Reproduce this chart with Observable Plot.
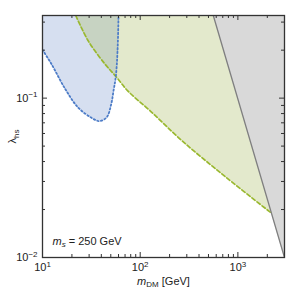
<!DOCTYPE html>
<html><head><meta charset="utf-8">
<script src="https://cdn.jsdelivr.net/npm/d3@7"></script>
<script src="https://cdn.jsdelivr.net/npm/@observablehq/plot@0.6"></script>
<style>body{margin:0;background:#fff}</style>
</head><body><div id="chart"></div>
<script>
// Blue (dotted) excluded region: lower boundary
const blueMass   = [10, 12.4, 17.1, 23.3, 32.0, 38.3, 45.5, 50.5, 53.3, 56.3, 58.6, 60];
const blueLambda = [0.201, 0.163, 0.114, 0.0869, 0.075, 0.0718, 0.076, 0.0917, 0.111, 0.137, 0.197, 0.33];
// Green (dashed) region: lower boundary
const greenMass   = [21.9, 29.6, 43.8, 56.3, 74.6, 127, 269, 750, 2200];
const greenLambda = [0.33, 0.227, 0.163, 0.137, 0.111, 0.083, 0.0539, 0.032, 0.019];
// Gray (solid) region: left boundary
const grayMass   = [560, 3000];
const grayLambda = [0.33, 0.01];

const xDomain = [10, 3000];
const yDomain = [0.01, 0.33];
const xMajor = [10, 100, 1000];
const xLabels = ["10^{1}", "10^{2}", "10^{3}"];
const yMajor = [0.01, 0.1];
const yLabels = ["10^{−2}", "10^{−1}"];
const xMinor = [20,30,40,50,60,70,80,90,200,300,400,500,600,700,800,900,2000,3000];
const yMinor = [0.02,0.03,0.04,0.05,0.06,0.07,0.08,0.09,0.2,0.3];
const xTitle = "*m*_{DM} [GeV]";
const yTitle = "λ_{hs}";
const note = "*m*_{*s*} = 250 GeV";

const blue = blueMass.map((m, i) => ({m, l: blueLambda[i]}));
const green = greenMass.map((m, i) => ({m, l: greenLambda[i]}));
const gray = grayMass.map((m, i) => ({m, l: grayLambda[i]}));
const yTop = yDomain[1], xRight = xDomain[1];

const W = 287, H = 291, mL = 42, mR = 3, mT = 15, mB = 34;
const pw = W - mL - mR, ph = H - mT - mB;
const ink = "#333";

function ticks(vals, len) {
  return [
    Plot.tickX(vals, {x: d => d, insetTop: ph - len, stroke: ink}),
    Plot.tickX(vals, {x: d => d, insetBottom: ph - len, stroke: ink}),
  ];
}
function ticksY(vals, len) {
  return [
    Plot.tickY(vals, {y: d => d, insetRight: pw - len, stroke: ink}),
    Plot.tickY(vals, {y: d => d, insetLeft: pw - len, stroke: ink}),
  ];
}

const chart = Plot.plot({
  width: W, height: H,
  marginLeft: mL, marginRight: mR, marginTop: mT, marginBottom: mB,
  style: {fontFamily: "'Liberation Sans', Arial, sans-serif", fontSize: "11px", color: "#222", background: "white"},
  x: {type: "log", domain: xDomain},
  y: {type: "log", domain: yDomain},
  marks: [
    Plot.areaY(blue, {x: "m", y1: "l", y2: () => yTop, fill: "#d6dff0", curve: "catmull-rom", clip: true}),
    Plot.areaY(green, {x: "m", y1: "l", y2: () => yTop, fill: "rgb(170,188,100)", fillOpacity: 0.33, curve: "catmull-rom", clip: true}),
    Plot.areaX(gray, {y: "l", x1: "m", x2: () => xRight, fill: "#d9d9d9", clip: true}),
    Plot.line(green, {x: "m", y: "l", stroke: "#9ab830", strokeWidth: 1.7, strokeDasharray: "4,2.4", curve: "catmull-rom", clip: true}),
    Plot.line(blue, {x: "m", y: "l", stroke: "#4d7cc7", strokeWidth: 1.8, strokeDasharray: "1.5,2.3", curve: "catmull-rom", clip: true}),
    Plot.line(gray, {x: "m", y: "l", stroke: "#7f7f7f", strokeWidth: 1.3, clip: true}),
    ...ticks(xMinor, 3), ...ticks(xMajor, 5),
    ...ticksY(yMinor, 3), ...ticksY(yMajor, 5),
    Plot.frame({stroke: ink, strokeWidth: 1.3}),
    Plot.axisX(xMajor, {anchor: "bottom", tickSize: 0, tickPadding: 6, label: null, tickFormat: d => xLabels[xMajor.indexOf(d)], fontSize: 11}),
    Plot.axisY(yMajor, {anchor: "left", tickSize: 0, tickPadding: 5, label: null, tickFormat: d => yLabels[yMajor.indexOf(d)], fontSize: 11}),
    Plot.text([xTitle], {text: d => d, frameAnchor: "bottom", lineAnchor: "bottom", dy: 27, fontSize: 11}),
    Plot.text([yTitle], {text: d => d, frameAnchor: "left", rotate: -90, dx: -30, dy: 7, fontSize: 11}),
    Plot.text([note], {text: d => d, frameAnchor: "bottom-left", textAnchor: "start", lineAnchor: "bottom", dx: 10, dy: -13, fontSize: 11}),
  ]
});
document.getElementById("chart").appendChild(chart);

// rich text: *italic*, _{sub}, ^{sup}
function parse(s) {
  const parts = []; let italic = false, mode = 0, buf = "";
  const flush = () => { if (buf) parts.push({t: buf, italic, mode}); buf = ""; };
  for (let i = 0; i < s.length; i++) {
    const c = s[i];
    if (c === "*") { flush(); italic = !italic; }
    else if ((c === "_" || c === "^") && s[i+1] === "{") { flush(); mode = c === "_" ? 1 : -1; i++; }
    else if (c === "}" && mode) { flush(); mode = 0; }
    else buf += c;
  }
  flush();
  return parts;
}
d3.select(chart).selectAll("text").each(function() {
  const s = this.textContent;
  if (!/[*_^]/.test(s)) return;
  const parts = parse(s);
  const el = d3.select(this); el.text("");
  let shift = 0;
  for (const p of parts) {
    const target = p.mode === 1 ? 2.5 : p.mode === -1 ? -4.5 : 0;
    const ts = el.append("tspan").text(p.t);
    if (target !== shift) { ts.attr("dy", target - shift); shift = target; }
    if (p.mode) ts.attr("font-size", "8px");
    if (p.italic) ts.attr("font-style", "italic");
  }
});
</script></body></html>
